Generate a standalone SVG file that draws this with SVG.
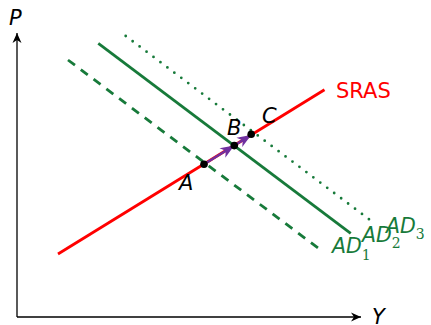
<svg xmlns="http://www.w3.org/2000/svg" width="431" height="325" viewBox="0 0 431 325">
<style>
.ax{stroke:#000;stroke-width:1.3;fill:none}
.ad{stroke:#177a3a;stroke-width:2.8;fill:none}
.lbl{font-family:"DejaVu Sans",sans-serif;font-style:oblique;font-size:21px;fill:#000}
.adl{font-family:"DejaVu Sans",sans-serif;font-style:oblique;font-size:20.5px;fill:#177a3a}
.sub{font-family:"DejaVu Serif","Liberation Serif",serif;font-style:normal;font-size:14px}
.mv{stroke:#7030a0;stroke-width:2.4;fill:none}
.dot{fill:#000}
</style>
<defs>
<marker id="st" markerUnits="userSpaceOnUse" viewBox="-16 -8 18 16" markerWidth="18" markerHeight="16" refX="0" refY="0" orient="auto">
<path d="M0,0 L-14,-5.5 L-10,0 L-14,5.5 Z" fill="#7030a0"/>
</marker>
<marker id="ax" markerUnits="userSpaceOnUse" viewBox="-12 -6 14 12" markerWidth="14" markerHeight="12" refX="0" refY="0" orient="auto">
<path d="M0,0 L-10,-4.5 L-7,0 L-10,4.5 Z" fill="#000"/>
</marker>
</defs>
<g id="axes">
<line class="ax" x1="17" y1="317" x2="17" y2="33" marker-end="url(#ax)"/>
<line class="ax" x1="17" y1="317" x2="361" y2="317" marker-end="url(#ax)"/>
<text class="lbl" x="9" y="25">P</text>
<text class="lbl" x="372" y="324">Y</text>
</g>
<g id="connectors">
<line id="AD1" class="ad" x1="68" y1="60" x2="318" y2="248" stroke-dasharray="8.7 7.3"/>
<line id="AD2" class="ad" x1="98.3" y1="43.3" x2="350.7" y2="233.3"/>
<line id="AD3" class="ad" x1="125.7" y1="36" x2="372" y2="221.5" stroke-dasharray="0 8.7" stroke-linecap="round" stroke-width="3"/>
<line id="SRAS" x1="58" y1="254" x2="324.5" y2="89.7" stroke="#ff0000" stroke-width="2.8"/>
<line class="mv" x1="204" y1="164.3" x2="234.3" y2="145.6" marker-end="url(#st)"/>
<line class="mv" x1="234.3" y1="145.6" x2="251.2" y2="135" marker-end="url(#st)"/>
</g>
<g id="labels">
<text x="336" y="98" font-family="DejaVu Sans, sans-serif" font-size="21" fill="#ff0000">SRAS</text>
<text class="adl" x="332" y="253">AD<tspan class="sub" dy="7">1</tspan></text>
<text class="adl" x="362" y="242">AD<tspan class="sub" dy="6">2</tspan></text>
<text class="adl" x="386" y="233">AD<tspan class="sub" dy="6">3</tspan></text>
</g>
<g id="A"><circle class="dot" cx="204" cy="164.3" r="3.8"/><text class="lbl" x="179" y="190">A</text></g>
<g id="B"><circle class="dot" cx="234.3" cy="145.6" r="3.8"/><text class="lbl" x="227" y="135">B</text></g>
<g id="C"><circle class="dot" cx="251.2" cy="134.3" r="3.8"/><text class="lbl" x="262" y="123">C</text></g>
</svg>
